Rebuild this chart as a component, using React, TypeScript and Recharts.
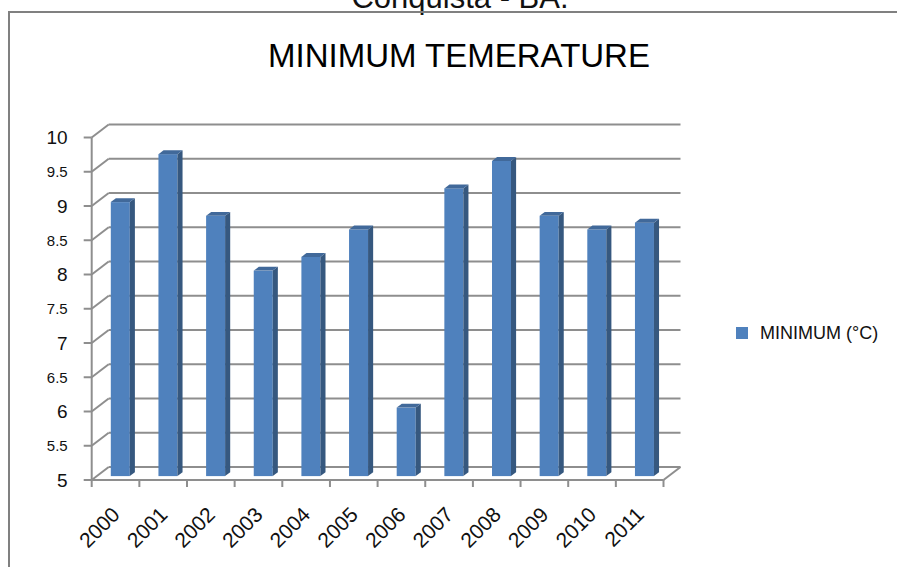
import React from 'react';
import { BarChart, Bar, XAxis, YAxis, CartesianGrid, ReferenceLine } from 'recharts';

const TITLE = 'MINIMUM TEMERATURE';
const SUBTITLE = 'Conquista - BA.';
const SERIES_NAME = 'MINIMUM (°C)';
const CATEGORIES = ['2000', '2001', '2002', '2003', '2004', '2005', '2006', '2007', '2008', '2009', '2010', '2011'];
const MINIMUM = [9.0, 9.7, 8.8, 8.0, 8.2, 8.6, 6.0, 9.2, 9.6, 8.8, 8.6, 8.7];
const Y_TICKS = [5, 5.5, 6, 6.5, 7, 7.5, 8, 8.5, 9, 9.5, 10];
const Y_DOMAIN = [5, 10];

const data = CATEGORIES.map((year, i) => ({ year, min: MINIMUM[i] }));

const W = 897;
const H = 567;
const FONT = '"Liberation Sans", Arial, sans-serif';
const GRID = '#8e8e8e';
const FRONT = '#4f81bd';
const SIDE = '#36587f';
const TOP = '#41699a';
// 3D depth of the plot box
const DX = 17;
const DY = -13;
const FRONT_DEPTH = 0.3;
const BAR_DEPTH = 0.3;

const renderGridLine = (p: any) => {
  const { x1, x2, y1 } = p;
  return (
    <g key={p.key}>
      <line x1={x1} y1={y1} x2={x1 + DX} y2={y1 + DY} stroke={GRID} strokeWidth={2} />
      <line x1={x1 + DX} y1={y1 + DY} x2={x2 + DX} y2={y1 + DY} stroke={GRID} strokeWidth={2} />
    </g>
  );
};

const FloorEdge = (p: any) => {
  const { x2, y2 } = p;
  return <line x1={x2} y1={y2} x2={x2 + DX} y2={y2 + DY} stroke={GRID} strokeWidth={2} />;
};

const Bar3D = (p: any) => {
  const { x, y, width, height } = p;
  if (height == null || height <= 0) return null;
  const fx = x + DX * FRONT_DEPTH;
  const fy = y + DY * FRONT_DEPTH;
  const sx = DX * BAR_DEPTH;
  const sy = DY * BAR_DEPTH;
  return (
    <g>
      <rect x={fx} y={fy} width={width} height={height} fill={FRONT} />
      <polygon
        points={`${fx + width},${fy} ${fx + width + sx},${fy + sy} ${fx + width + sx},${fy + height + sy} ${fx + width},${fy + height}`}
        fill={SIDE}
      />
      <polygon
        points={`${fx},${fy} ${fx + sx},${fy + sy} ${fx + width + sx},${fy + sy} ${fx + width},${fy}`}
        fill={TOP}
      />
    </g>
  );
};

const XTick = (p: any) => {
  const { x, y, payload, index } = p;
  const half = payload && payload.offset != null ? payload.offset : (p.width || 0) / (2 * CATEGORIES.length);
  const last = index === CATEGORIES.length - 1;
  const tx = x + 5.5;
  const ty = y + 29;
  return (
    <g>
      <line x1={x - half} y1={y - 7} x2={x - half} y2={y} stroke={GRID} strokeWidth={2} />
      {last && <line x1={x + half} y1={y - 7} x2={x + half} y2={y} stroke={GRID} strokeWidth={2} />}
      <text
        x={tx}
        y={ty}
        transform={`rotate(-45, ${tx}, ${ty})`}
        textAnchor="end"
        fontFamily={FONT}
        fontSize={21}
        fill="#111"
      >
        {payload.value}
      </text>
    </g>
  );
};

const YTick = (p: any) => {
  const { x, y, payload } = p;
  const isInt = Number.isInteger(payload.value);
  const fs = isInt ? 19 : 15;
  return (
    <text x={x} y={y} dy={fs * 0.36} textAnchor="end" fontFamily={FONT} fontSize={fs} fill="#111">
      {payload.value}
    </text>
  );
};

export default function App() {
  return (
    <div style={{ position: 'absolute', left: 0, top: 0, width: W, height: H, background: '#fff', overflow: 'hidden' }}>
      <svg width={W} height={H} style={{ position: 'absolute', left: 0, top: 0 }}>
        <text x={460} y={8} textAnchor="middle" fontFamily={FONT} fontSize={31} fill="#111">
          {SUBTITLE}
        </text>
        <line x1={9} y1={12} x2={W} y2={12} stroke="#808080" strokeWidth={2} />
        <line x1={9} y1={11} x2={9} y2={H} stroke="#808080" strokeWidth={2} />
        <text x={459} y={67} textAnchor="middle" fontFamily={FONT} fontSize={33} fill="#000">
          {TITLE}
        </text>
        <rect x={736} y={327} width={12} height={12} fill={FRONT} />
        <text x={760} y={339} fontFamily={FONT} fontSize={18} fill="#111">
          {SERIES_NAME}
        </text>
      </svg>
      <div style={{ position: 'absolute', left: 0, top: 0 }}>
        <BarChart
          width={W}
          height={H}
          data={data}
          margin={{ top: 137.5, right: 233.5, bottom: 57, left: 31.7 }}
          barSize={19}
        >
          <CartesianGrid vertical={false} horizontal={renderGridLine} />
          <XAxis
            dataKey="year"
            interval={0}
            height={30}
            tickSize={7}
            tickMargin={0}
            tickLine={false}
            axisLine={{ stroke: GRID, strokeWidth: 2 }}
            tick={<XTick />}
          />
          <YAxis
            type="number"
            domain={Y_DOMAIN}
            ticks={Y_TICKS}
            interval={0}
            width={60}
            tickSize={8}
            tickMargin={16}
            tickLine={{ stroke: GRID, strokeWidth: 2 }}
            axisLine={{ stroke: GRID, strokeWidth: 2 }}
            tick={<YTick />}
          />
          <ReferenceLine y={5} stroke="none" shape={<FloorEdge />} />
          <Bar dataKey="min" name={SERIES_NAME} isAnimationActive={false} shape={<Bar3D />} />
        </BarChart>
      </div>
    </div>
  );
}
